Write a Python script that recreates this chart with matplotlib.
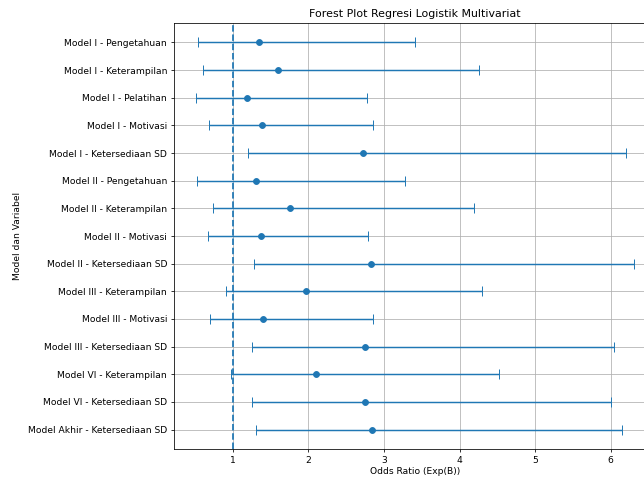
import numpy as np
import matplotlib.pyplot as plt

# data
labels = [
    "Model I - Pengetahuan",
    "Model I - Keterampilan",
    "Model I - Pelatihan",
    "Model I - Motivasi",
    "Model I - Ketersediaan SD",
    "Model II - Pengetahuan",
    "Model II - Keterampilan",
    "Model II - Motivasi",
    "Model II - Ketersediaan SD",
    "Model III - Keterampilan",
    "Model III - Motivasi",
    "Model III - Ketersediaan SD",
    "Model VI - Keterampilan",
    "Model VI - Ketersediaan SD",
    "Model Akhir - Ketersediaan SD",
]
odds_ratio = [1.35, 1.60, 1.19, 1.39, 2.72, 1.31, 1.75, 1.37, 2.83, 1.97, 1.40, 2.75, 2.10, 2.75, 2.84]
ci_lower = [0.54, 0.60, 0.51, 0.68, 1.20, 0.53, 0.73, 0.67, 1.28, 0.91, 0.69, 1.25, 0.98, 1.25, 1.31]
ci_upper = [3.41, 4.26, 2.78, 2.85, 6.20, 3.28, 4.19, 2.79, 6.31, 4.30, 2.85, 6.04, 4.52, 6.00, 6.15]

or_arr = np.array(odds_ratio)
err = [or_arr - np.array(ci_lower), np.array(ci_upper) - or_arr]
y = np.arange(len(labels))

# low dpi so everything comes out a bit smaller, like the reference
fig = plt.figure(figsize=(644 / 70, 477 / 70), dpi=70)
# axes run past the right edge, like the cropped original
ax = fig.add_axes([174 / 644, 28 / 477, 482 / 644, 426 / 477])

ax.errorbar(odds_ratio, y, xerr=err, fmt='o', color='C0', capsize=5)
ax.axvline(1, color='C0', linestyle='--', linewidth=1.8)

ax.set_yticks(y)
ax.set_yticklabels(labels)
ax.invert_yaxis()
ax.tick_params(labelsize=9.4)
ax.set_xlabel("Odds Ratio (Exp(B))", fontsize=9.4, labelpad=2)
ax.set_ylabel("Model dan Variabel", fontsize=9.4, labelpad=6)
ax.set_title("Forest Plot Regresi Logistik Multivariat", fontsize=11.3)
ax.grid(True)

fig.savefig("out.png", dpi=70)
